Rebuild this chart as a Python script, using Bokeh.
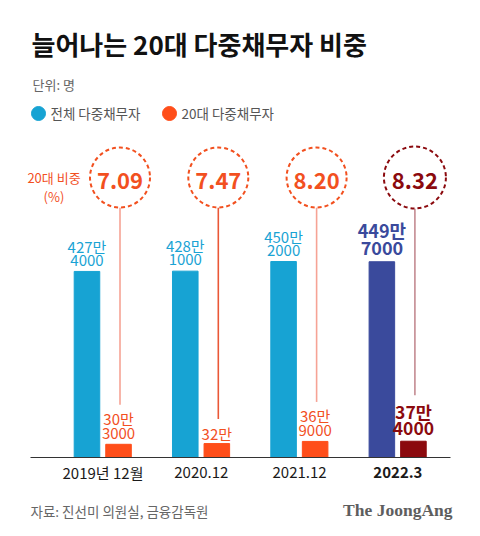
from bokeh.plotting import figure
from bokeh.models import Range1d
from bokeh.core.properties import value
from bokeh.embed import file_html
from bokeh.resources import INLINE

# ---------------- data ----------------
categories = ["2019년 12월", "2020.12", "2021.12", "2022.3"]
total_debtors = [4274000, 4281000, 4502000, 4497000]   # 전체 다중채무자 (명)
young_debtors = [303000, 320000, 369000, 374000]       # 20대 다중채무자 (명)
young_share = [7.09, 7.47, 8.20, 8.32]                 # 20대 비중 (%)

# ---------------- layout helpers ----------------
W, H = 464, 520
BASE = 457.0          # baseline pixel row (from top)
PPU = 0.4353          # pixels per 만 (10,000 people)
GS = 98.3             # pixels between groups
G0 = 102.5            # pixel x of first group centre
X0 = -G0 / GS

def X(px):
    return X0 + px / GS

def Y(py):
    return (BASE - py) / PPU

FONT = value("Noto Sans CJK KR")

p = figure(width=W, height=H, output_backend="svg", toolbar_location=None,
           x_range=Range1d(X(0), X(W)), y_range=Range1d(Y(H), Y(0)),
           x_axis_type=None, y_axis_type=None, min_border=0)
p.min_border_left = p.min_border_right = p.min_border_top = p.min_border_bottom = 0
p.outline_line_color = None
p.grid.visible = False
p.background_fill_color = "white"
p.border_fill_color = "white"

n = len(categories)
idx = list(range(n))
tot = [v / 10000 for v in total_debtors]
yng = [v / 10000 for v in young_debtors]

BLUE, DBLUE = "#17a3d3", "#3a4a9c"
ORANGE, DRED = "#ff4e1a", "#8b0a0e"
TXT_OR = "#f2501f"

blue_cols = [BLUE] * (n - 1) + [DBLUE]
orange_cols = [ORANGE] * (n - 1) + [DRED]
OFF_B = -0.163
OFF_O = 0.158
BW = 0.26

# bars
p.vbar(x=[i + OFF_B for i in idx], top=tot, width=BW, bottom=0, color=blue_cols)
p.vbar(x=[i + OFF_O for i in idx], top=yng, width=BW, bottom=0, color=orange_cols)

# axis line
p.segment(x0=X(30), y0=0, x1=X(450), y1=0, line_color="#333333", line_width=1)

def split_label(v):
    man, rest = divmod(v, 10000)
    lines = [f"{man}만"]
    if rest:
        lines.append(f"{rest}")
    return lines

line_cols = ["#f6a395", "#ea5837", "#f6a395", "#c38a91"]
CY = 177

for i in idx:
    last = (i == n - 1)
    # total labels (centre offsets in px above bar top)
    fs = 18 if last else 15
    offs = [13.5, 32] if last else [11.2, 25.2]
    lines = split_label(total_debtors[i])
    col = DBLUE if last else "#1aa3d4"
    for k, t in enumerate(reversed(lines)):
        p.text(x=[i + OFF_B], y=[tot[i] + offs[k] / PPU], text=[t],
               text_font=FONT, text_font_size=f"{fs}px",
               text_font_style="bold" if last else "normal",
               text_color=col, text_align="center", text_baseline="middle")
    # young labels
    fs2 = 17.5 if last else 15
    offs2 = [12.5, 30] if last else [10.5, 25.5]
    lines2 = split_label(young_debtors[i])
    col2 = DRED if last else TXT_OR
    for k, t in enumerate(reversed(lines2)):
        p.text(x=[i + OFF_O], y=[yng[i] + offs2[k] / PPU], text=[t],
               text_font=FONT, text_font_size=f"{fs2}px",
               text_font_style="bold" if last else "normal",
               text_color=col2, text_align="center", text_baseline="middle")
    # connecting line from circle to label
    top_c = offs2[len(lines2) - 1]
    line_end = yng[i] + (top_c + (16 if last else 14)) / PPU
    R = 31 if last else 30
    cx = i + OFF_O + 0.015
    p.segment(x0=[cx], y0=[Y(CY + R)], x1=[cx], y1=[line_end],
              line_color=line_cols[i], line_width=1.6)
    # dashed circle
    p.circle(x=[cx], y=[Y(CY)], radius=R, radius_units="screen",
             fill_color="white", line_color=DRED if last else TXT_OR,
             line_width=2, line_dash="4 3")
    p.text(x=[cx], y=[Y(CY + 2.5)], text=[f"{young_share[i]:.2f}"],
           text_font=FONT, text_font_size="22px", text_font_style="bold",
           text_color=DRED if last else TXT_OR, text_align="center",
           text_baseline="middle")

# share caption
p.text(x=[X(53.5), X(53.5)], y=[Y(177), Y(196)], text=["20대 비중", "(%)"],
       text_font=FONT, text_font_size="13px", text_color=TXT_OR,
       text_align="center", text_baseline="middle")

# category labels
for i in idx:
    last = (i == n - 1)
    p.text(x=[i], y=[Y(472)], text=[categories[i]], text_font=FONT,
           text_font_size="15px", text_font_style="bold" if last else "normal",
           text_color="#1a1a1a", text_align="center", text_baseline="middle")

# title, unit, legend
p.text(x=[X(31)], y=[Y(43)], text=["늘어나는 20대 다중채무자 비중"], text_font=FONT,
       text_font_size="26px", text_font_style="bold", text_color="#111111",
       text_align="left", text_baseline="middle")
p.text(x=[X(32)], y=[Y(83.5)], text=["단위: 명"], text_font=FONT,
       text_font_size="13px", text_color="#666666", text_align="left",
       text_baseline="middle")
p.circle(x=[X(38), X(169)], y=[Y(113), Y(113)], radius=7, radius_units="screen",
         color=[BLUE, ORANGE])
p.text(x=[X(50), X(181)], y=[Y(112), Y(112)], text=["전체 다중채무자", "20대 다중채무자"],
       text_font=FONT, text_font_size="13.5px", text_color="#555555",
       text_align="left", text_baseline="middle")

# footer
p.text(x=[X(30)], y=[Y(510)], text=["자료: 진선미 의원실, 금융감독원"], text_font=FONT,
       text_font_size="13.5px", text_color="#666666", text_align="left",
       text_baseline="middle")
p.text(x=[X(452)], y=[Y(509)], text=["The JoongAng"], text_font=value("Liberation Serif"),
       text_font_size="17.5px", text_font_style="bold", text_color="#5e5e5e",
       text_align="right", text_baseline="middle")

open("out.html", "w").write(file_html(p, INLINE))
